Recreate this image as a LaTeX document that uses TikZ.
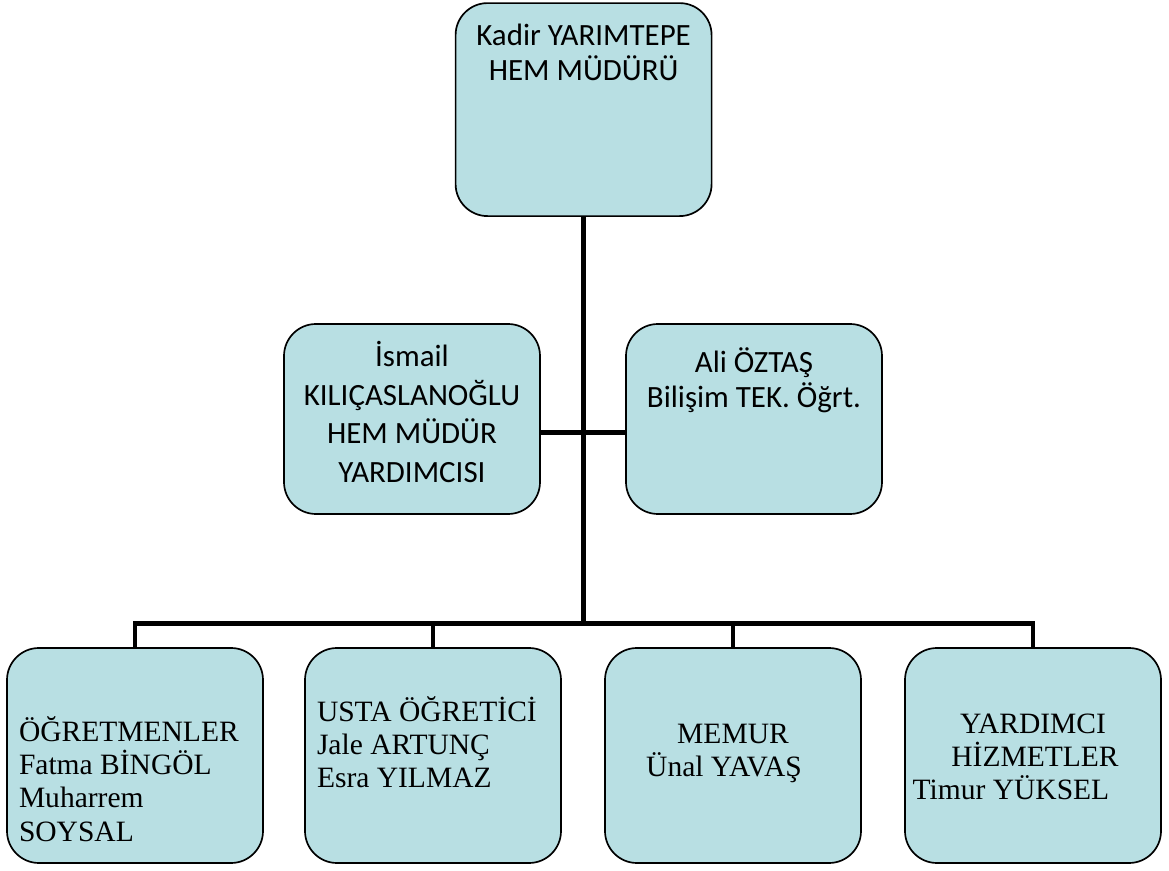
\documentclass[tikz,border=0pt]{standalone}
\usepackage{fontspec}
\setmainfont{Liberation Serif}
\newfontfamily\calibri{Carlito}
\usepackage{tikz}
\usetikzlibrary{calc}
\definecolor{kutu}{RGB}{184,223,227}

% box height, first baseline, alignment, text
\newcommand{\icerik}[4]{\parbox[c][#1][t]{6.4cm}{#3\rule{0pt}{#2}#4}}

\begin{document}
\begin{tikzpicture}[box/.style={draw, line width=1.2pt, fill=kutu, rounded corners=0.8cm, inner sep=0pt},
  conn/.style={line width=3.5pt}, ust/.style={font=\calibri\fontsize{22}{24.9}\selectfont},
  alt/.style={font=\fontsize{21}{23.8}\selectfont}]
\useasboundingbox (0,0) rectangle (29.225,21.75);

\node (mudur)[box, ust] at (14.59,19.01) {\icerik{5.325cm}{1.05cm}{\centering}{Kadir YARIMTEPE\\HEM MÜDÜRÜ}};

\node (yard)[box, ust] at (10.3,11.275) {\icerik{4.75cm}{1.07cm}{\centering\baselineskip=27.4pt}{İsmail\\KILIÇASLANOĞLU\\HEM MÜDÜR\\YARDIMCISI}};
\node (bilisim)[box, ust] at (18.85,11.275) {\icerik{4.75cm}{1.225cm}{\centering\baselineskip=24.2pt}{Ali ÖZTAŞ\\Bilişim TEK. Öğrt.}};

\node (ogrt)[box, alt] at (3.375,2.8625) {\icerik{5.375cm}{2.325cm}{\raggedright\leftskip=0.3cm}{ÖĞRETMENLER\\Fatma BİNGÖL\\Muharrem\\SOYSAL}};
\node (usta)[box, alt] at ($(ogrt) + (7.45,0)$) {\icerik{5.375cm}{1.825cm}{\raggedright\leftskip=0.3cm}{USTA ÖĞRETİCİ\\Jale ARTUNÇ\\Esra YILMAZ}};
\node (memur)[box, alt] at (18.325,2.8625) {\icerik{5.375cm}{2.375cm}{\centering}{MEMUR\\Ünal YAVAŞ\hspace*{0.45cm}}};
\node (hizmet)[box, alt] at (25.825,2.8625) {\icerik{5.375cm}{2.125cm}{\centering}{YARDIMCI\hspace*{0.15cm}\\\hspace*{0.1cm}HİZMETLER\\Timur YÜKSEL\hspace*{1.1cm}}};

% connectors
\coordinate (dugum) at (mudur.south |- 0,10.94);
\coordinate (hat) at ($(ogrt.north) + (0,0.6)$);
\draw[conn] (mudur.south) -- (mudur.south |- hat);
\draw[conn] (yard.east |- dugum) -- (bilisim.west |- dugum);
\draw[conn] (ogrt.north) -- (hat) -| (hizmet.north);
\draw[conn] (usta.north) -- (usta.north |- hat);
\draw[conn] (memur.north) -- (memur.north |- hat);
\end{tikzpicture}
\end{document}
